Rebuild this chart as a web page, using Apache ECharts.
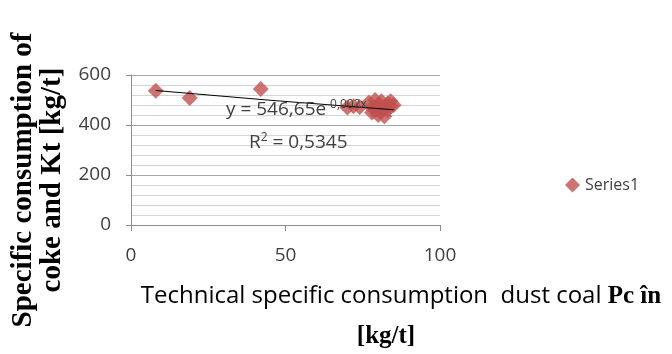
<!DOCTYPE html>
<html>
<head>
<meta charset="utf-8">
<script src="https://cdn.jsdelivr.net/npm/echarts@6/dist/echarts.min.js"></script>
<style>
  html, body { margin: 0; padding: 0; background: #fff; }
  #chart { width: 672px; height: 354px; }
</style>
</head>
<body>
<div id="chart"></div>
<script>
// dust coal consumption [kg/t]
const dustCoal = [8, 19, 42, 70, 72, 74, 77, 78, 78, 79, 79, 80, 80, 81, 81, 82, 82, 83, 83, 84, 84, 85]
// coke consumption [kg/t]
const cokeRate = [537, 508, 544, 470, 475, 472, 490, 470, 450, 500, 460, 480, 440, 495, 455, 470, 435, 485, 460, 495, 475, 480]
// exponential trendline endpoints
const trendX = [8, 45, 85]
const trendY = [538, 499, 461]
const xTicks = [0, 50, 100]
const yTicks = [0, 200, 400, 600]

const chart = echarts.init(document.getElementById('chart'))

const sans = 'Open Sans'
const serif = 'Liberation Serif'

const option = {
  animation: false,
  grid: { left: 131, right: 232, top: 75, bottom: 129 },
  legend: {
    left: 560, top: 172,
    itemWidth: 15, itemHeight: 15,
    data: [{ name: 'Series1', icon: 'diamond' }],
    textStyle: { fontFamily: sans, fontSize: 16, color: '#404040' }
  },
  xAxis: {
    type: 'value',
    min: xTicks[0], max: xTicks[xTicks.length - 1], interval: 50,
    axisLine: { show: true, lineStyle: { color: '#8c8c8c' } },
    axisTick: { show: true, length: 6, lineStyle: { color: '#8c8c8c' } },
    axisLabel: { fontFamily: sans, fontSize: 19, color: '#404040', margin: 21 },
    splitLine: { show: false }
  },
  yAxis: {
    type: 'value',
    min: yTicks[0], max: yTicks[yTicks.length - 1], interval: 200,
    axisLine: { show: true, lineStyle: { color: '#8c8c8c' } },
    axisTick: { show: true, length: 5, lineStyle: { color: '#8c8c8c' } },
    axisLabel: { fontFamily: sans, fontSize: 19, color: '#404040', margin: 20 },
    splitLine: { show: true, lineStyle: { color: '#a6a6a6', width: 1 } },
    minorTick: { show: true, splitNumber: 5, length: 0, lineStyle: { color: 'rgba(0,0,0,0)' } },
    minorSplitLine: { show: true, lineStyle: { color: '#d4d4d4', width: 1 } }
  },
  series: [
    {
      name: 'Series1',
      type: 'scatter',
      symbol: 'diamond',
      symbolSize: 16,
      itemStyle: { color: '#c0504d' },
      data: dustCoal.map((x, i) => [x, cokeRate[i]]),
      z: 2
    },
    {
      name: 'trend',
      type: 'line',
      showSymbol: false,
      symbol: 'none',
      lineStyle: { color: '#000', width: 1 },
      data: trendX.map((x, i) => [x, trendY[i]]),
      z: 3
    }
  ],
  graphic: [
    {
      type: 'text', left: 226, top: 99, z: 10,
      style: {
        text: 'y = 546,65e{s|-0,002x}',
        font: '19px "Open Sans"', fill: '#404040',
        rich: { s: { fontSize: 12, fontFamily: sans, padding: [0, 0, 10, 0], fill: '#404040' } }
      }
    },
    {
      type: 'text', left: 249, top: 132, z: 10,
      style: {
        text: 'R{s|2} = 0,5345',
        font: '19px "Open Sans"', fill: '#404040',
        rich: { s: { fontSize: 12, fontFamily: sans, padding: [0, 0, 10, 0], fill: '#404040' } }
      }
    },
    {
      type: 'text', x: 9, y: 180, rotation: Math.PI / 2, z: 10,
      style: {
        text: 'Specific consumption of\ncoke and Kt [kg/t]',
        font: 'bold 29px "Liberation Serif"', fill: '#000',
        align: 'center', verticalAlign: 'top', lineHeight: 29
      }
    },
    {
      type: 'text', x: 401, y: 284, z: 10,
      style: {
        text: 'Technical specific consumption  dust coal {b|Pc în}',
        font: '24px "Open Sans"', fill: '#000',
        align: 'center', verticalAlign: 'top',
        rich: { b: { fontFamily: serif, fontWeight: 'bold', fontSize: 25, fill: '#000' } }
      }
    },
    {
      type: 'text', x: 386, y: 324, z: 10,
      style: {
        text: '[kg/t]',
        font: 'bold 25px "Liberation Serif"', fill: '#000',
        align: 'center', verticalAlign: 'top'
      }
    }
  ]
}

chart.setOption(option)
</script>
</body>
</html>
